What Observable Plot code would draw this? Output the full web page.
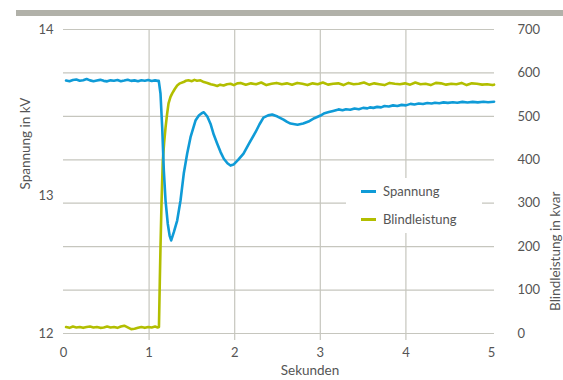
<!DOCTYPE html>
<html>
<head>
<meta charset="utf-8">
<script src="https://cdn.jsdelivr.net/npm/d3@7"></script>
<script src="https://cdn.jsdelivr.net/npm/@observablehq/plot@0.6"></script>
<style>
  html, body { margin: 0; padding: 0; background: #fff; }
  #wrap { position: relative; width: 563px; height: 380px; font-family: Lato, "Noto Sans", sans-serif; color: #555; }
  #bar { position: absolute; left: 16px; top: 10px; width: 547px; height: 6px; background: #b1b1a9; }
  #legend { position: absolute; left: 346px; top: 178px; width: 136px; height: 55px; background: #fff; font-size: 13px; }
  .item { position: absolute; left: 15px; display: flex; align-items: center; }
  .sw { width: 15px; height: 3px; margin-right: 7px; }
</style>
</head>
<body>
<div id="wrap"><div id="bar"></div></div>
<script>
// Zeit in Sekunden, Spannung in kV
const timeV = [0.03,0.07,0.11,0.15,0.19,0.23,0.27,0.31,0.35,0.39,0.43,0.47,0.51,0.55,0.59,0.63,0.67,0.71,0.75,0.79,0.83,0.87,0.91,0.95,0.99,1.03,1.07,1.10,
  1.113,1.133,1.153,1.172,1.192,1.218,1.240,1.258,1.290,1.328,1.367,1.405,1.445,1.484,1.542,1.581,1.615,1.639,1.68,1.717,1.755,1.796,1.835,1.873,1.915,1.951,1.986,
  2.04,2.103,2.17,2.243,2.29,2.336,2.39,2.438,2.50,2.570,2.612,2.652,2.734,2.80,2.862,2.93,3.002,3.05,3.10,3.15,3.213,3.26,3.30,3.35,3.40,3.45,3.50,3.55,3.58,3.62,3.665,3.71,3.75,3.80,3.85,3.90,3.95,4.00,4.054,4.10,4.15,4.20,4.25,4.30,4.34,4.39,4.439,4.49,4.55,4.60,4.66,4.72,4.78,4.84,4.907,4.96,5.03];
const spannung = [13.694,13.690,13.697,13.700,13.693,13.696,13.703,13.695,13.690,13.694,13.698,13.692,13.689,13.695,13.693,13.697,13.690,13.694,13.699,13.692,13.695,13.690,13.696,13.693,13.697,13.691,13.695,13.692,
  13.692,13.616,13.412,13.154,12.969,12.800,12.712,12.678,12.740,12.823,12.969,13.136,13.256,13.354,13.454,13.484,13.498,13.504,13.478,13.435,13.370,13.315,13.265,13.225,13.198,13.184,13.190,
  13.218,13.256,13.318,13.384,13.432,13.472,13.485,13.490,13.478,13.460,13.446,13.436,13.429,13.436,13.448,13.468,13.484,13.498,13.505,13.512,13.521,13.516,13.522,13.519,13.526,13.522,13.530,13.527,13.533,13.530,13.536,13.533,13.541,13.538,13.545,13.541,13.548,13.545,13.554,13.550,13.556,13.553,13.559,13.556,13.561,13.558,13.563,13.560,13.564,13.561,13.566,13.562,13.566,13.563,13.567,13.564,13.567];

// Zeit in Sekunden, Blindleistung in kvar
const timeQ = [0.03,0.07,0.11,0.15,0.19,0.23,0.27,0.31,0.35,0.39,0.43,0.47,0.51,0.55,0.59,0.63,0.67,0.71,0.75,0.79,0.83,0.87,0.91,0.95,0.99,1.03,1.07,1.10,
  1.115,1.125,1.133,1.145,1.160,1.176,1.192,1.21,1.227,1.25,1.270,1.30,1.328,1.36,1.402,1.43,1.46,1.50,1.53,1.56,1.60,1.64,1.68,1.72,1.76,1.796,1.83,1.87,1.91,1.951,1.99,2.03,
  2.07,2.13,2.19,2.25,2.31,2.37,2.43,2.49,2.55,2.61,2.67,2.73,2.79,2.85,2.91,2.97,3.03,3.09,3.15,3.21,3.27,3.33,3.39,3.45,3.51,3.57,3.63,3.69,3.75,3.81,3.87,3.93,3.99,4.05,4.11,4.17,4.23,4.29,4.35,4.41,4.47,4.53,4.59,4.65,4.71,4.77,4.83,4.89,4.95,5.01,5.03];
const blindleistung = [15,13,16,14,15,13,15,16,14,15,13,14,16,14,15,13,16,18,14,10,11,13,15,13,15,14,16,14,
  15,120,198,300,398,440,474,505,530,545,553,563,571,576,579,582,583,581,584,582,583,579,577,574,572,570,573,571,574,575,572,576,
  577,573,576,574,578,572,575,577,574,576,573,577,575,572,576,574,578,573,575,576,572,577,574,575,578,573,576,574,572,577,575,574,576,573,578,574,575,572,577,576,573,575,574,577,572,576,575,573,574,572,573];

const xTicks = [0,1,2,3,4,5];
const xGrid = [1,2,3,4];
const qTicks = [0,100,200,300,400,500,600,700];
const vTicks = [12,13,14];

const blue = "#0f9bd7";
const green = "#b2be00";
const gridColor = "#c6c6be";
const textColor = "#555";

// Spannung wird auf die kvar-Achse abgebildet (linke Achse nicht linear beschriftet)
const vToQ = d3.scaleLinear().domain([12,13,14]).range([0,316,700]);

const dataV = timeV.map((t,i) => ({t, v: spannung[i]}));
const dataQ = timeQ.map((t,i) => ({t, q: blindleistung[i]}));

const chart = Plot.plot({
  width: 563,
  height: 380,
  marginLeft: 63,
  marginRight: 69,
  marginTop: 29,
  marginBottom: 47,
  style: {fontFamily: "Lato, 'Noto Sans', sans-serif", fontSize: "13px", color: textColor, background: "transparent"},
  x: {domain: [0, 5.035], label: null},
  y: {domain: [0, 700], label: null},
  marks: [
    Plot.gridY(qTicks, {stroke: gridColor, strokeOpacity: 1, strokeWidth: 1.2}),
    Plot.ruleX(xGrid, {stroke: gridColor, strokeWidth: 1.2, insetBottom: -7}),
    Plot.axisX(xTicks, {tickSize: 0, tickPadding: 14, tickFormat: d => String(d), fill: textColor}),
    Plot.axisY(vTicks.map(v => vToQ(v)), {anchor: "left", tickSize: 0, tickPadding: 10, tickFormat: q => String(Math.round(vToQ.invert(q))), fill: textColor}),
    Plot.axisY(qTicks, {anchor: "right", tickSize: 0, tickPadding: 23, tickFormat: d => String(d), fill: textColor}),
    Plot.text(["Spannung in kV"], {frameAnchor: "left", rotate: -90, dx: -38, dy: 8, fill: textColor, fontSize: 13.5}),
    Plot.text(["Blindleistung in kvar"], {frameAnchor: "right", rotate: -90, dx: 61, dy: 10, fill: textColor, fontSize: 13.5}),
    Plot.text(["Sekunden"], {frameAnchor: "bottom", dx: 31, dy: 41, fill: textColor, fontSize: 13.5}),
    Plot.line(dataQ, {x: "t", y: "q", stroke: green, strokeWidth: 2.6, curve: "linear"}),
    Plot.line(dataV, {x: "t", y: d => vToQ(d.v), stroke: blue, strokeWidth: 2.6, curve: "linear"})
  ]
});

const wrap = document.getElementById("wrap");
chart.style.position = "absolute";
chart.style.left = "0px";
chart.style.top = "0px";
wrap.appendChild(chart);

const legend = document.createElement("div");
legend.id = "legend";
legend.innerHTML =
  `<div class="item" style="top:5px"><span class="sw" style="background:${blue}"></span>Spannung</div>` +
  `<div class="item" style="top:33px"><span class="sw" style="background:${green}"></span>Blindleistung</div>`;
wrap.appendChild(legend);
</script>
</body>
</html>
